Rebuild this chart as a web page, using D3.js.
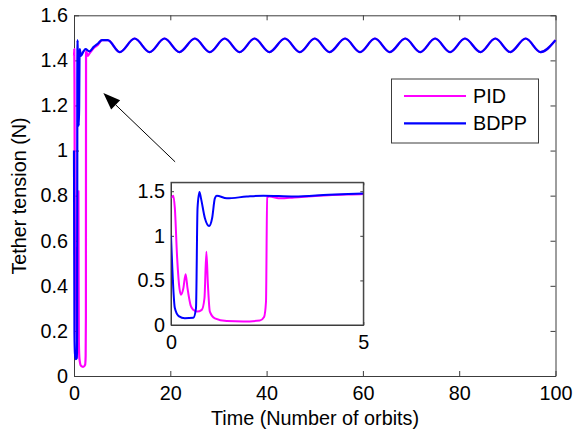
<!DOCTYPE html>
<html>
<head>
<meta charset="utf-8">
<script src="https://cdn.jsdelivr.net/npm/d3@7.9.0/dist/d3.min.js"></script>
<style>
  body { margin: 0; background: #fff; }
  svg text { font-family: "Liberation Sans", Arial, Helvetica, sans-serif; fill: #000; }
</style>
</head>
<body>
<svg id="chart" width="575" height="430"></svg>
<script>
// ---- data ----
// early transient (0..5 orbits), each controller
const pidT  = [0, 0.06, 0.1, 0.16, 0.22, 0.26, 0.32, 0.38, 0.43, 0.51, 0.58, 0.68, 0.8, 0.87, 0.92, 0.96, 1.01, 1.14, 1.45, 1.88, 2.31, 2.42, 2.47, 2.5, 2.55, 2.85, 3.2, 4.1, 5.0];
const pidV  = [1.42, 1.45, 1.31, 0.75, 0.41, 0.34, 0.41, 0.57, 0.41, 0.22, 0.17, 0.15, 0.17, 0.3, 0.82, 0.45, 0.15, 0.075, 0.045, 0.04, 0.05, 0.09, 0.26, 1.43, 1.44, 1.42, 1.43, 1.455, 1.47];
const bdppT = [0, 0.1, 0.2, 0.36, 0.58, 0.65, 0.69, 0.74, 0.78, 0.88, 0.99, 1.07, 1.14, 1.19, 1.45, 1.97, 2.4, 3.2, 4.1, 5.0];
const bdppV = [1.0, 0.19, 0.1, 0.075, 0.08, 0.19, 1.31, 1.49, 1.42, 1.2, 1.11, 1.2, 1.42, 1.45, 1.42, 1.44, 1.45, 1.44, 1.46, 1.475];
// steady oscillation after ~5 orbits (both curves overlap)
const steadyT = [5.8, 7.0, 9.5, 12.6, 15.7, 18.8, 21.9, 25.1, 28.2, 31.3, 34.4, 37.5, 40.6, 43.8, 46.9, 50.0, 53.1, 56.3, 59.4, 62.5, 65.6, 68.8, 71.9, 75.0, 78.1, 81.2, 84.4, 87.5, 90.6, 93.8, 96.9, 100];
const steadyV = [1.49, 1.49, 1.437, 1.497, 1.437, 1.497, 1.437, 1.497, 1.437, 1.497, 1.437, 1.497, 1.437, 1.497, 1.437, 1.497, 1.437, 1.497, 1.437, 1.497, 1.437, 1.497, 1.437, 1.497, 1.437, 1.497, 1.437, 1.497, 1.437, 1.497, 1.437, 1.49];

const seriesNames = ['PID', 'BDPP'];
const seriesColors = ['#ff00ff', '#0000ff'];

const mainXTicks = [0, 20, 40, 60, 80, 100];
const mainYTicks = [0, 0.2, 0.4, 0.6, 0.8, 1, 1.2, 1.4, 1.6];
const insetXTicks = [0, 5];
const insetYTicks = [0, 0.5, 1, 1.5];

// arrow annotation, in data units of the main axes
const arrowFrom = [21.0, 0.95];
const arrowTo = [6.1, 1.255];

// ---- build series ----
const zip = (ts, vs) => ts.map((t, i) => [t, vs[i]]);
const series = [
  zip(pidT, pidV).concat(zip(steadyT, steadyV)),
  zip(bdppT, bdppV).concat(zip(steadyT, steadyV))
];

const svg = d3.select('#chart');
const FONT = 19.8;
const axisColor = '#3c3c3c';

// draws box, inward ticks on all four sides and tick labels
function drawFrame(g, x, y, xTicks, yTicks, tickLen, fmtX, fmtY) {
  const [x0, x1] = x.range();
  const [y0, y1] = y.range();

  g.append('rect')
    .attr('x', x0).attr('y', y1)
    .attr('width', x1 - x0).attr('height', y0 - y1)
    .attr('fill', '#fff');

  const bottom = g.append('g').attr('transform', `translate(0,${y0})`)
    .call(d3.axisBottom(x).tickValues(xTicks).tickSizeInner(-tickLen).tickSizeOuter(0).tickPadding(10).tickFormat(fmtX));
  const left = g.append('g').attr('transform', `translate(${x0},0)`)
    .call(d3.axisLeft(y).tickValues(yTicks).tickSizeInner(-tickLen).tickSizeOuter(0).tickPadding(6).tickFormat(fmtY));
  const top = g.append('g').attr('transform', `translate(0,${y1})`)
    .call(d3.axisTop(x).tickValues(xTicks).tickSizeInner(-tickLen).tickSizeOuter(0).tickFormat(''));
  const right = g.append('g').attr('transform', `translate(${x1},0)`)
    .call(d3.axisRight(y).tickValues(yTicks).tickSizeInner(-tickLen).tickSizeOuter(0).tickFormat(''));

  [bottom, left, top, right].forEach(a => {
    a.attr('font-size', null).attr('font-family', null);
    a.selectAll('.domain').attr('stroke', axisColor);
    a.selectAll('.tick line').attr('stroke', axisColor);
    a.selectAll('.tick text').attr('fill', '#000').style('font-size', FONT + 'px');
  });
}

const fmt = d => d3.format('~g')(d);

// ---- main axes ----
const x = d3.scaleLinear().domain([0, 100]).range([74, 555.5]);
const y = d3.scaleLinear().domain([0, 1.6]).range([376, 15.3]);

const main = svg.append('g');
drawFrame(main, x, y, mainXTicks, mainYTicks, 5, fmt, fmt);

const line = d3.line()
  .x(d => x(d[0]))
  .y(d => y(d[1]))
  .curve(d3.curveMonotoneX);

series.forEach((s, i) => {
  main.append('path')
    .attr('d', line(s))
    .attr('fill', 'none')
    .attr('stroke', seriesColors[i])
    .attr('stroke-width', 2.2)
    .attr('stroke-linejoin', 'round');
});

// axis titles
svg.append('text')
  .attr('x', 315).attr('y', 425)
  .attr('text-anchor', 'middle')
  .style('font-size', FONT + 'px')
  .text('Time (Number of orbits)');

svg.append('text')
  .attr('transform', 'translate(26,196) rotate(-90)')
  .attr('text-anchor', 'middle')
  .style('font-size', FONT + 'px')
  .text('Tether tension (N)');

// ---- arrow ----
const ax0 = x(arrowFrom[0]), ay0 = y(arrowFrom[1]);
const ax1 = x(arrowTo[0]), ay1 = y(arrowTo[1]);
const ang = Math.atan2(ay1 - ay0, ax1 - ax0);
const headLen = 17, headHalf = 6.5;
const bx = ax1 - headLen * Math.cos(ang), by = ay1 - headLen * Math.sin(ang);
svg.append('line')
  .attr('x1', ax0).attr('y1', ay0).attr('x2', bx).attr('y2', by)
  .attr('stroke', '#000').attr('stroke-width', 1);
svg.append('path')
  .attr('d', d3.line()([
    [ax1, ay1],
    [bx + headHalf * Math.sin(ang), by - headHalf * Math.cos(ang)],
    [bx - headHalf * Math.sin(ang), by + headHalf * Math.cos(ang)]
  ]) + 'Z')
  .attr('fill', '#000');

// ---- legend ----
const legend = svg.append('g');
legend.append('rect')
  .attr('x', 391.5).attr('y', 79)
  .attr('width', 147).attr('height', 64)
  .attr('fill', '#fff').attr('stroke', axisColor).attr('stroke-width', 1);
seriesNames.forEach((name, i) => {
  const ly = 96 + i * 27.3;
  legend.append('line')
    .attr('x1', 404).attr('x2', 466)
    .attr('y1', ly).attr('y2', ly)
    .attr('stroke', seriesColors[i]).attr('stroke-width', 2.2);
  legend.append('text')
    .attr('x', 473).attr('y', ly + 7)
    .style('font-size', FONT + 'px')
    .text(name);
});

// ---- inset (first 5 orbits) ----
const xi = d3.scaleLinear().domain([0, 5]).range([171, 363.3]);
const yi = d3.scaleLinear().domain([0, 1.6]).range([325, 182.3]);

const inset = svg.append('g');
svg.append('clipPath').attr('id', 'inset-clip')
  .append('rect')
  .attr('x', 171).attr('y', 182.3)
  .attr('width', 363.3 - 171).attr('height', 325 - 182.3);

drawFrame(inset, xi, yi, insetXTicks, insetYTicks, 3, fmt, fmt);

const lineInset = d3.line()
  .x(d => xi(d[0]))
  .y(d => yi(d[1]))
  .curve(d3.curveMonotoneX);

series.forEach((s, i) => {
  inset.append('path')
    .attr('clip-path', 'url(#inset-clip)')
    .attr('d', lineInset(s))
    .attr('fill', 'none')
    .attr('stroke', seriesColors[i])
    .attr('stroke-width', 2)
    .attr('stroke-linejoin', 'round');
});
// redraw the box edges on top of the curves
inset.append('rect')
  .attr('x', 171).attr('y', 182.3)
  .attr('width', 363.3 - 171).attr('height', 325 - 182.3)
  .attr('fill', 'none').attr('stroke', axisColor);
</script>
</body>
</html>
